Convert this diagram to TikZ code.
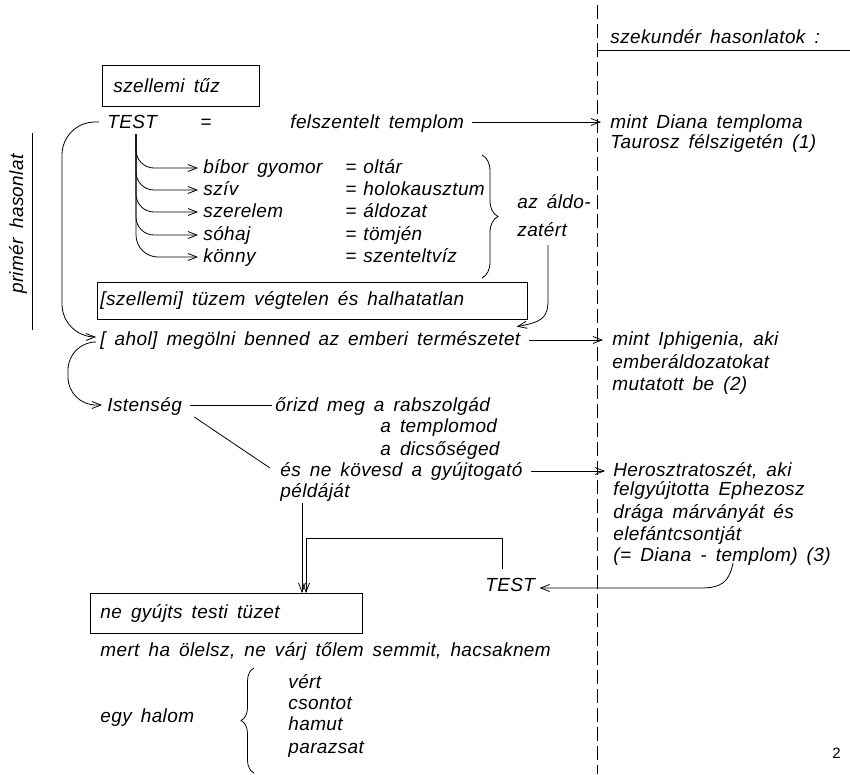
\documentclass[tikz,border=0pt]{standalone}
\usepackage{fontspec}
\setmainfont{Liberation Sans}[LetterSpace=2.0,WordSpace=1.6]
\usepackage{tikz}
\usetikzlibrary{arrows.meta, decorations.pathreplacing}

\newcommand{\hand}{\fontsize{19}{21}\selectfont\itshape}

\tikzset{
    txt/.style={anchor=base west, inner sep=0pt, font=\hand},
    textbox/.style={draw, line width=0.9pt, anchor=north west, inner ysep=0pt, font=\hand},
    arr/.style={-{Straight Barb[length=9pt,width=7pt]}, line width=0.8pt},
    divider/.style={line width=0.9pt, dash pattern=on 14pt off 5pt},
    bracket/.style={decorate, line width=0.8pt},
}

\begin{document}
\begin{tikzpicture}[x=1pt, y=-1pt, line width=0.8pt]
        \useasboundingbox (0,0) rectangle (850,774);

        % dividing line and headings
        \draw[divider] (597,5) -- (597,774);
        \node[txt] (szek) at (610,43) {szekundér hasonlatok :};
        \draw (597,50) -- (850,50);
        \node[txt, anchor=center, rotate=90] (primer) at (18,224) {primér hasonlat};
        \draw (32,133) -- (32,330);

        % TEST = templom
        \node[textbox, inner xsep=11pt, minimum height=41pt] (tuz) at (102,65) {\makebox[135pt][l]{szellemi tűz}};
        \node[txt] (test) at (107,128) {TEST};
        \node[txt] (testeq) at (200,128) {=};
        \node[txt] (templom) at (290,128) {felszentelt templom};
        \node[txt] (diana) at (610,128) {mint Diana temploma};
        \node[txt] (tauros) at (610,148) {Taurosz félszigetén (1)};

        \node[txt] (bibor) at (203,173) {bíbor gyomor};
        \node[txt] (sziv) at (203,195) {szív};
        \node[txt] (szerelem) at (203,217) {szerelem};
        \node[txt] (sohaj) at (203,240) {sóhaj};
        \node[txt] (konny) at (203,262) {könny};
        \node[txt] (biboreq) at (345,173) {=};
        \node[txt] (szivеq) at (345,195) {=};
        \node[txt] (szereleq) at (345,217) {=};
        \node[txt] (sohajeq) at (345,240) {=};
        \node[txt] (konnyeq) at (345,262) {=};
        \node[txt] (oltar) at (363,173) {oltár};
        \node[txt] (holo) at (363,195) {holokausztum};
        \node[txt] (aldozat) at (363,217) {áldozat};
        \node[txt] (tomjen) at (363,240) {tömjén};
        \node[txt] (viz) at (363,262) {szenteltvíz};
        \draw[bracket, decoration={brace, amplitude=16pt}] (482,155) -- (482,278);
        \node[txt] (aldo) at (517,208) {az áldo-};
        \node[txt] (zatert) at (517,236) {zatért};

        \node[textbox, inner xsep=3pt, minimum height=37pt] (vegtelen) at (97,282) {\makebox[424pt][l]{[szellemi] tüzem végtelen és halhatatlan}};
        \node[txt] (ahol) at (100,345) {[ ahol] megölni benned az emberi természetet};
        \node[txt] (iphi) at (612,345) {mint Iphigenia, aki};
        \node[txt] (iphib) at (612,368) {emberáldozatokat};
        \node[txt] (iphic) at (612,390) {mutatott be (2)};

        % Istenség
        \node[txt] (isten) at (107,411) {Istenség};
        \node[txt] (orizd) at (275,411) {őrizd meg a rabszolgád};
        \node[txt] (templomod) at (380,432) {a templomod};
        \node[txt] (dicso) at (380,455) {a dicsőséged};
        \node[txt] (kovesd) at (280,476) {és ne kövesd a gyújtogató};
        \node[txt] (pelda) at (280,497) {példáját};
        \node[txt] (hero) at (613,476) {Herosztratoszét, aki};
        \node[txt] (herob) at (613,495) {felgyújtotta Ephezosz};
        \node[txt] (heroc) at (613,518) {drága márványát és};
        \node[txt] (herod) at (613,540) {elefántcsontját};
        \node[txt] (heroe) at (613,561) {(= Diana - templom) (3)};
        \node[txt] (testb) at (485,591) {TEST};

        % ne gyújts
        \node[textbox, inner xsep=10pt, minimum height=40pt] (negyujts) at (90,593) {\makebox[252pt][l]{ne gyújts testi tüzet}};
        \node[txt] (mert) at (100,656) {mert ha ölelsz, ne várj tőlem semmit, hacsaknem};
        \node[txt] (halom) at (100,722) {egy halom};
        \draw[bracket, decoration={brace, amplitude=13pt}] (254,773) -- (254,668);
        \node[txt] (vert) at (288,688) {vért};
        \node[txt] (csont) at (288,709) {csontot};
        \node[txt] (hamu) at (288,730) {hamut};
        \node[txt] (parazs) at (288,753) {parazsat};
        \node[txt, font=\fontsize{15}{15}\selectfont\upshape] (page) at (832,758) {2};

        % connectors
        \coordinate (stem) at (136,134);
        \coordinate (aldobend) at (548,300);
        \coordinate (drop) at (302,503);
        \coordinate (join) at (306,538);
        \coordinate (tstart) at (733,563);

        \draw[arr] ([xshift=8pt,yshift=6pt]templom.base east) -- ([xshift=-9pt,yshift=6pt]diana.base west);
        \draw[arr, rounded corners=33pt] ([xshift=-8pt,yshift=6pt]test.base west) -| ([xshift=-38pt,yshift=8pt]ahol.base west) -- ([xshift=-4pt,yshift=8pt]ahol.base west);
        \draw[arr, rounded corners=18pt] (stem) |- ([xshift=-5pt,yshift=5pt]bibor.base west);
        \draw[arr, rounded corners=18pt] (stem) |- ([xshift=-5pt,yshift=5pt]sziv.base west);
        \draw[arr, rounded corners=18pt] (stem) |- ([xshift=-5pt,yshift=5pt]szerelem.base west);
        \draw[arr, rounded corners=18pt] (stem) |- ([xshift=-5pt,yshift=5pt]sohaj.base west);
        \draw[arr, rounded corners=22pt] (stem) |- ([xshift=-5pt,yshift=5pt]konny.base west);
        \draw[arr] ([xshift=31pt,yshift=-9pt]zatert.base west) -- (aldobend) .. controls (548,318) and (542,322) .. ([xshift=-4pt,yshift=4pt]ahol.north east);
        \draw[arr] ([xshift=8pt,yshift=5pt]ahol.base east) -- ([xshift=-9pt,yshift=5pt]iphi.base west);
        \draw[arr, rounded corners=28pt] ([xshift=-4pt,yshift=3pt]ahol.base west) -| ([xshift=-39pt,yshift=6pt]isten.base west) -- ([xshift=-5pt,yshift=6pt]isten.base west);
        \draw ([xshift=8pt,yshift=6pt]isten.base east) -- ([xshift=-3pt,yshift=6pt]orizd.base west);
        \draw ([xshift=12pt,yshift=-6pt]isten.base east) -- ([xshift=-10pt,yshift=8pt]kovesd.base west);
        \draw[arr] ([xshift=8pt,yshift=5pt]kovesd.base east) -- ([xshift=-8pt,yshift=5pt]hero.base west);
        \draw[arr] (drop) -- (drop |- negyujts.north);
        \draw[arr] ([xshift=-8pt,yshift=8pt]testb.north) |- (join) -- (join |- negyujts.north);
        \draw[arr] (tstart) .. controls (729,582) and (722,588) .. (700,588) -- ([xshift=4pt,yshift=3pt]testb.base east);
\end{tikzpicture}
\end{document}
